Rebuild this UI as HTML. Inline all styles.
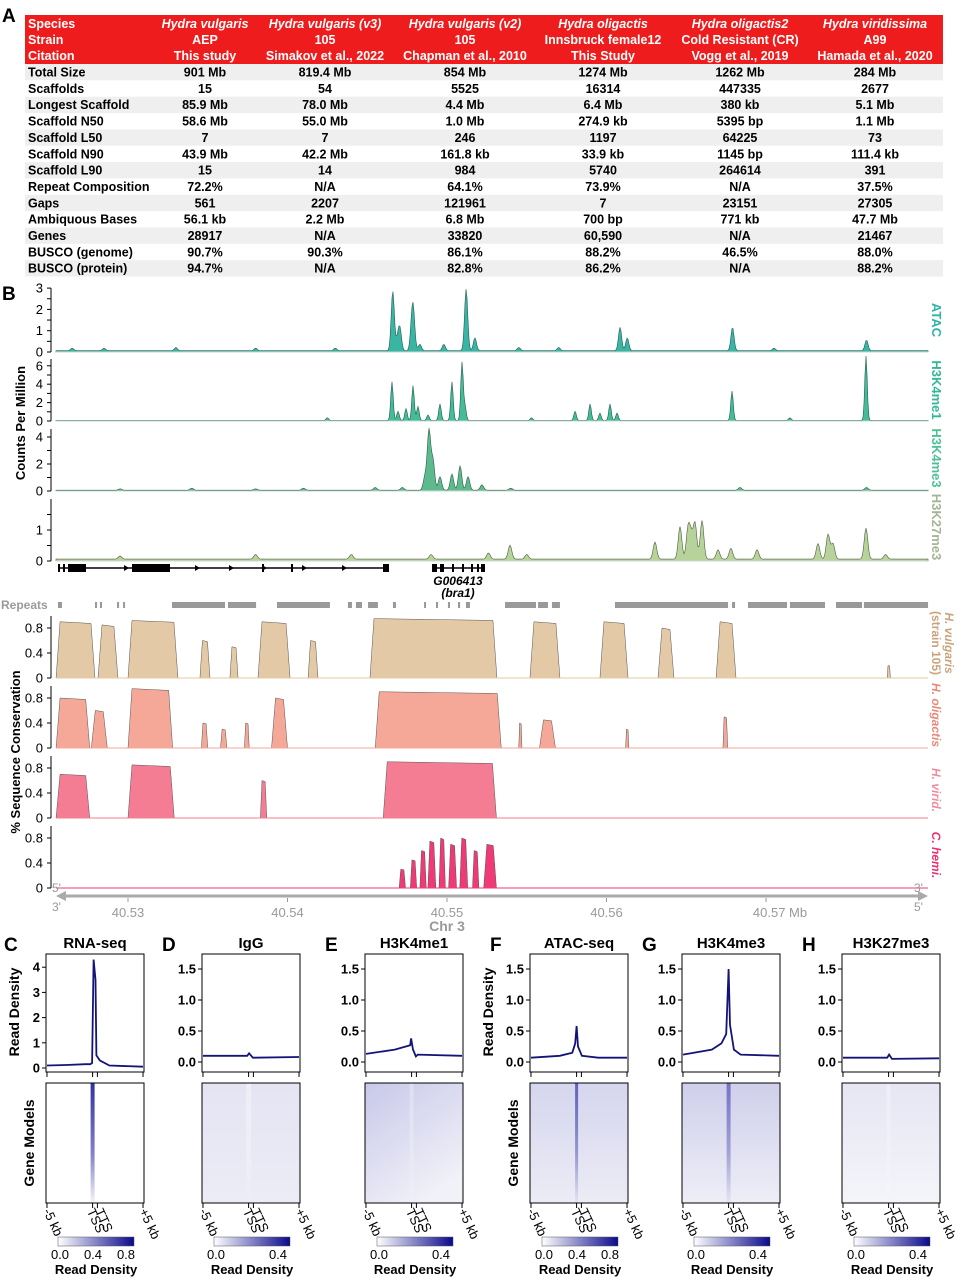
<!DOCTYPE html>
<html><head><meta charset="utf-8"><style>
body{margin:0;background:#fff;}
svg{display:block;font-family:"Liberation Sans",Arial,sans-serif;}
</style></head><body>
<svg id="fig" width="965" height="1280" viewBox="0 0 965 1280" xmlns="http://www.w3.org/2000/svg">
<defs>
<linearGradient id="cbar" x1="0" x2="1" y1="0" y2="0"><stop offset="0" stop-color="#ffffff"/><stop offset="1" stop-color="#0a0a8c"/></linearGradient>
</defs>
</svg>
<script>
// ---------- TABLE DATA ----------
const headSpecies=["Hydra vulgaris","Hydra vulgaris (v3)","Hydra vulgaris (v2)","Hydra oligactis","Hydra oligactis2","Hydra viridissima"];
const headStrain=["AEP","105","105","Innsbruck female12","Cold Resistant (CR)","A99"];
const headCitation=["This study","Simakov et al., 2022","Chapman et al., 2010","This Study","Vogg et al., 2019","Hamada et al., 2020"];
const rowLabels=["Total Size","Scaffolds","Longest Scaffold","Scaffold N50","Scaffold L50","Scaffold N90","Scaffold L90","Repeat Composition","Gaps","Ambiquous Bases","Genes","BUSCO (genome)","BUSCO (protein)"];
const rowValues=[
["901 Mb","819.4 Mb","854 Mb","1274 Mb","1262 Mb","284 Mb"],
["15","54","5525","16314","447335","2677"],
["85.9 Mb","78.0 Mb","4.4 Mb","6.4 Mb","380 kb","5.1 Mb"],
["58.6 Mb","55.0 Mb","1.0 Mb","274.9 kb","5395 bp","1.1 Mb"],
["7","7","246","1197","64225","73"],
["43.9 Mb","42.2 Mb","161.8 kb","33.9 kb","1145 bp","111.4 kb"],
["15","14","984","5740","264614","391"],
["72.2%","N/A","64.1%","73.9%","N/A","37.5%"],
["561","2207","121961","7","23151","27305"],
["56.1 kb","2.2 Mb","6.8 Mb","700 bp","771 kb","47.7 Mb"],
["28917","N/A","33820","60,590","N/A","21467"],
["90.7%","90.3%","86.1%","88.2%","46.5%","88.0%"],
["94.7%","N/A","82.8%","86.2%","N/A","88.2%"]];

// ---------- TRACK DATA (position kb from 40.53 Mb, height) ----------
const atacPos=[16.6,16.9,17.05,17.8,17.9,18.3,19.8,21.2,21.75,30.85,31.3,37.9,46.3,-3.5,-1.5,3.0,8.0,13.0,24.5,27.0,40.5];
const atacVal=[2.8,0.5,1.0,1.2,1.4,0.3,0.3,2.9,0.6,1.1,0.6,1.1,0.5,0.12,0.12,0.15,0.12,0.12,0.15,0.15,0.12];
const k4me1Pos=[16.55,16.93,17.43,17.87,18.18,18.81,19.56,20.31,20.94,21.13,28.03,28.97,29.59,30.22,30.66,37.87,46.27,12.5,25.3,41.5];
const k4me1Val=[4.2,1.0,1.3,3.8,1.5,0.6,1.8,4.2,6.3,1.5,1.0,1.8,0.8,1.8,0.8,3.2,7.0,0.3,0.3,0.3];
const k4me3Pos=[18.62,18.87,19.12,19.56,20.31,20.82,21.32,22.19,38.37,-0.5,8.0,4.0,11.0,15.5,17.2,24.0,46.3];
const k4me3Val=[1.0,4.4,2.2,1.0,1.2,1.8,1.0,0.4,0.2,0.1,0.1,0.15,0.15,0.2,0.2,0.15,0.2];
const k27Pos=[23.95,33.04,34.61,35.11,35.55,35.99,35.3,36.99,39.44,43.26,43.89,46.27,14.0,-0.5,8.0,19.0,22.6,25.0,37.8,44.2,47.5];
const k27Val=[0.45,0.55,1.05,0.95,1.15,1.25,0.7,0.3,0.3,0.5,0.8,1.0,0.15,0.1,0.15,0.15,0.2,0.15,0.35,0.5,0.15];
const repeatStart=[-4.39,-2.07,-1.76,-0.69,-0.31,2.76,6.27,9.34,13.79,14.29,15.05,16.61,18.56,19.31,20.06,20.69,21.19,23.64,25.71,26.58,30.53,37.87,38.87,41.5,44.39,46.14];
const repeatEnd=[-4.14,-1.94,-1.63,-0.56,-0.19,6.08,8.03,12.66,14.04,14.67,15.67,16.8,18.68,19.44,20.19,20.82,21.44,25.58,26.33,27.08,37.62,38.06,41.32,43.7,46.02,50.16];
// conservation blocks: start kb, end kb, value
const hvStart=[-4.51,-1.88,0,4.51,6.39,8.15,11.29,15.17,25.2,29.59,33.23,36.87,47.6];
const hvEnd=[-2.07,-0.63,3.13,5.14,6.9,10.16,11.91,23.13,27.08,31.35,34.23,38.12,47.8];
const hvVal=[0.9,0.85,0.92,0.6,0.5,0.9,0.6,0.95,0.9,0.9,0.8,0.9,0.2];
const hoStart=[-4.51,-2.3,0,4.6,5.8,7.3,9.0,15.5,24.5,25.8,31.2,37.3];
const hoEnd=[-2.4,-1.3,2.8,5.0,6.2,7.6,10.0,23.4,24.7,26.8,31.4,37.6];
const hoVal=[0.8,0.6,0.95,0.4,0.3,0.4,0.8,0.9,0.4,0.45,0.3,0.5];
const hvirStart=[-4.51,0,8.3,16.0];
const hvirEnd=[-2.4,2.9,8.7,23.1];
const hvirVal=[0.7,0.85,0.6,0.9];
const chStart=[17.0,17.7,18.3,18.8,19.5,20.1,20.8,21.6,22.3];
const chEnd=[17.4,18.1,18.7,19.3,19.9,20.6,21.3,22.0,23.1];
const chVal=[0.3,0.45,0.6,0.75,0.8,0.7,0.8,0.6,0.7];
const xTickMb=["40.53","40.54","40.55","40.56","40.57"];
const xTickKb=[0,10,20,30,40];

// ---------- PROFILE DATA ----------
const profTitles=["RNA-seq","IgG","H3K4me1","ATAC-seq","H3K4me3","H3K27me3"];
const profLetters=["C","D","E","F","G","H"];
const profX=[
[-5,-3,-1,-0.5,-0.3,-0.15,0.05,0.15,0.5,1.5,5],
[-5,-0.4,-0.2,0.2,5],
[-5,-2,-0.4,-0.3,-0.1,0.2,0.4,5],
[-5,-2,-0.7,-0.4,-0.25,-0.1,0.3,2,5],
[-5,-2,-1,-0.5,-0.25,-0.1,0.3,1,5],
[-5,-0.4,-0.2,0.1,5]];
const profY=[
[0.1,0.12,0.15,0.15,0.2,4.3,3.5,0.5,0.3,0.1,0.05],
[0.1,0.1,0.14,0.07,0.08],
[0.13,0.2,0.27,0.38,0.2,0.09,0.12,0.1],
[0.07,0.1,0.15,0.3,0.58,0.25,0.1,0.07,0.07],
[0.12,0.2,0.3,0.45,1.5,0.6,0.2,0.12,0.1],
[0.07,0.07,0.12,0.05,0.06]];
const cbarLabels=[["0.0","0.4","0.8"],["0.0","0.4"],["0.0","0.4"],["0.0","0.4","0.8"],["0.0","0.4"],["0.0","0.4"]];

// ---------- RENDER ----------
const svg=document.getElementById('fig');
const NS="http://www.w3.org/2000/svg";
function mk(tag,attrs,parent){const e=document.createElementNS(NS,tag);for(const k in attrs)e.setAttribute(k,attrs[k]);(parent||svg).appendChild(e);return e;}
function txt(s,x,y,attrs,parent){const e=mk('text',Object.assign({x:x,y:y},attrs),parent);e.textContent=s;return e;}

[["A",2,22],["B",2,300]].forEach(l=>{const t=txt(l[0],l[1],l[2],{'font-size':19,'font-weight':'bold'});

});

// Table
const colX=[205,325,465,603,740,875];
const tbl=mk('g',{});


mk('rect',{x:25,y:15,width:918,height:49,fill:'#ee1c1c'},tbl);
const hdr=[["Species",headSpecies,28],["Strain",headStrain,44],["Citation",headCitation,60]];
hdr.forEach((h,i)=>{
  const t=txt(h[0],28,h[2],{'font-size':12.5,'font-weight':'bold',fill:'#fff'},tbl);
  
  
  h[1].forEach((s,j)=>{const c=txt(s,colX[j],h[2],{'font-size':12.5,'font-weight':'bold',fill:'#fff','text-anchor':'middle','font-style':i==0?'italic':'normal'},tbl);
  
  });
});
rowLabels.forEach((lab,i)=>{
  const y0=64+i*16.35;
  if(i%2==0)mk('rect',{x:25,y:y0,width:918,height:16.35,fill:'#efefef'},tbl);
  const t=txt(lab,28,y0+12.5,{'font-size':12.5,'font-weight':'bold'},tbl);
  
  
  rowValues[i].forEach((v,j)=>{const c=txt(v,colX[j],y0+12.5,{'font-size':12.5,'font-weight':'bold','text-anchor':'middle'},tbl);
  
  });
});

const X0=56,X1=928;
function gx(kb){return 128+kb*15.95;}
function kbAt(px){return (px-128)/15.95;}

function drawSignal(name,pos,val,y0,unit,fill,stroke,w,ticks,tickLbl,label,labelColor,labelY){
  const g=mk('g',{});
  
  
  let d='M'+X0+','+y0;
  for(let px=X0;px<=X1;px+=1){
    const k=kbAt(px);let v=0.06;
    for(let i=0;i<pos.length;i++){const z=(k-pos[i])/w;v+=val[i]*Math.exp(-z*z);}
    d+=' L'+px+','+(y0-v*unit).toFixed(1);
  }
  d+=' L'+X1+','+y0+' Z';
  const p=mk('path',{d:d,fill:fill,stroke:stroke,'stroke-width':0.6},g);
  
  
  mk('line',{x1:X0,x2:X1,y1:y0,y2:y0,stroke:'#c8d8d0','stroke-width':1},g);
  const topY=y0-ticks[ticks.length-1]*unit;
  mk('line',{x1:51,x2:51,y1:Math.min(topY,y0-62),y2:y0,stroke:'#000','stroke-width':1},g);
  ticks.forEach((t,i)=>{const yy=y0-t*unit;mk('line',{x1:47,x2:51,y1:yy,y2:yy,stroke:'#000'},g);
    if(tickLbl[i]!==''){const tl=txt(tickLbl[i],43,yy+4.5,{'font-size':13,'text-anchor':'end'},g);
    
    }});
  const lt=txt(label,0,0,{'font-size':13,'font-weight':'bold',fill:labelColor,'text-anchor':'middle',transform:'translate(932,'+labelY+') rotate(90)'},g);
  
  
}
drawSignal('atac',atacPos,atacVal,352,21.3,'#3bb5a3','#1f5f55',0.14,[0,0.5,1,1.5,2,2.5,3],['0','','1','','2','','3'],'ATAC','#2db3a5',320);
drawSignal('h3k4me1',k4me1Pos,k4me1Val,421,9.2,'#45bb98','#1f5f50',0.11,[0,1,2,3,4,5,6],['0','','2','','4','','6'],'H3K4me1','#33b796',390);
drawSignal('h3k4me3',k4me3Pos,k4me3Val,491,13.5,'#5fb98e','#2d5f45',0.15,[0,1,2,3,4],['0','','2','','4'],'H3K4me3','#4dc195',458);
drawSignal('h3k27me3',k27Pos,k27Val,561,31,'#b7d29a','#4f5f40',0.16,[0,0.5,1,1.5],['0','','1',''],'H3K27me3','#a4b495',527);

const cpm=txt('Counts Per Million',0,0,{'font-size':13,'font-weight':'bold','text-anchor':'middle',transform:'translate(25,423) rotate(-90)'});



// Gene models
const gm=mk('g',{});


mk('line',{x1:58,x2:389,y1:568,y2:568,stroke:'#000','stroke-width':1.5},gm);
[[58,2],[63,2],[68,18],[132,38],[262,2],[291,2],[383,6]].forEach(e=>mk('rect',{x:e[0],y:564,width:e[1],height:8,fill:'#000'},gm));
[127,198,232,265,305,345].forEach(a=>mk('path',{d:'M'+(a-3)+',565 L'+(a+2)+',568 L'+(a-3)+',571 Z',fill:'#000'},gm));
mk('line',{x1:432,x2:485,y1:568,y2:568,stroke:'#000','stroke-width':1.5},gm);
[[432,5],[440,4],[452,2],[462,2],[471,2],[477,2],[481,4]].forEach(e=>mk('rect',{x:e[0],y:564,width:e[1],height:8,fill:'#000'},gm));
const gn=txt('G006413',458,585,{'font-size':12,'font-weight':'bold','font-style':'italic','text-anchor':'middle'},gm);


const gn2=txt('(bra1)',458,597,{'font-size':12,'font-weight':'bold','font-style':'italic','text-anchor':'middle'},gm);



// Repeats
const rp=mk('g',{});


const rl=txt('Repeats',1,609,{'font-size':12,'font-weight':'bold',fill:'#9a9a9a'},rp);


repeatStart.forEach((s,i)=>{const r=mk('rect',{x:gx(s),y:602,width:Math.max(2,gx(repeatEnd[i])-gx(s)),height:6,fill:'#999'},rp);

});

// Conservation
function drawCons(name,st,en,val,y0,fill,label,labelColor,labelY){
  const g=mk('g',{});
  
  
  const unit=62.5;
  st.forEach((s,i)=>{
    const a=gx(s),b=gx(en[i]),h=val[i]*unit,sh=Math.min(4,(b-a)/4);
    const p=mk('path',{d:'M'+a+','+y0+' L'+(a+sh)+','+(y0-h)+' L'+(b-sh)+','+(y0-h*0.97)+' L'+b+','+y0+' Z',fill:fill,stroke:'#555','stroke-width':0.5},g);
    
    
  });
  mk('line',{x1:X0,x2:X1,y1:y0,y2:y0,stroke:fill,'stroke-width':1},g);
  mk('line',{x1:51,x2:51,y1:y0-62,y2:y0,stroke:'#000'},g);
  [[0,'0'],[0.4,'0.4'],[0.8,'0.8']].forEach(t=>{const yy=y0-t[0]*unit;mk('line',{x1:47,x2:51,y1:yy,y2:yy,stroke:'#000'},g);
    const tl=txt(t[1],43,yy+4.5,{'font-size':13,'text-anchor':'end'},g);
    
    });
  const n=label.length;
  label.forEach((l,k)=>{const lx=932+(n-1-k)*13;
  const lt=txt(l,0,0,{'font-size':12,'font-weight':'bold','font-style':k==0?'italic':'normal',fill:labelColor,'text-anchor':'middle',transform:'translate('+lx+','+labelY+') rotate(90)'},g);
  
  });
}
drawCons('h-vulgaris',hvStart,hvEnd,hvVal,678,'#e3c9a5',['H. vulgaris','(strain 105)'],'#c9a37c',643);
drawCons('h-oligactis',hoStart,hoEnd,hoVal,748,'#f5a898',['H. oligactis'],'#e8887a',715);
drawCons('h-viridissima',hvirStart,hvirEnd,hvirVal,818,'#f47c93',['H. virid.'],'#f08aa0',790);
drawCons('c-hemisphaerica',chStart,chEnd,chVal,888,'#ef3a76',['C. hemi.'],'#e8336f',855);
const sc=txt('% Sequence Conservation',0,0,{'font-size':13,'font-weight':'bold','text-anchor':'middle',transform:'translate(20,752) rotate(-90)'});



// Genomic x axis
const ax=mk('g',{});


mk('line',{x1:62,x2:922,y1:896,y2:896,stroke:'#aaa','stroke-width':3},ax);
mk('path',{d:'M56,896 L66,891 L66,901 Z',fill:'#aaa'},ax);
mk('path',{d:'M928,896 L918,891 L918,901 Z',fill:'#aaa'},ax);
[["5'",52,892],["3'",52,911],["3'",914,892],["5'",914,911]].forEach(l=>{const t=txt(l[0],l[1],l[2],{'font-size':12,fill:'#999'},ax);

});
xTickKb.forEach((k,i)=>{mk('line',{x1:gx(k),x2:gx(k),y1:898,y2:902,stroke:'#999'},ax);
  const t=txt(xTickMb[i]+(i==4?' Mb':''),gx(k)+(i==4?14:0),917,{'font-size':13,fill:'#999','text-anchor':'middle'},ax);
  
  });
const chr=txt('Chr 3',447,931,{'font-size':14,'font-weight':'bold',fill:'#999','text-anchor':'middle'},ax);



// Profile + heatmap panels
const boxL=[46,202,365,530,682,842];
const heatCfg=[
 {top:'#ffffff',bot:'#ffffff',stripe:'#1b1b9a',so:0.9,sw:4},
 {top:'#e4e4f3',bot:'#ececf6',stripe:'#ffffff',so:0.4,sw:5},
 {top:'#c8c8ea',bot:'#f1f1f8',stripe:'#ffffff',so:0.3,sw:4},
 {top:'#d5d5ee',bot:'#ececf6',stripe:'#3030a8',so:0.7,sw:3},
 {top:'#cfcfeb',bot:'#eeeef7',stripe:'#3838aa',so:0.6,sw:4},
 {top:'#e6e6f4',bot:'#f4f4fa',stripe:'#ffffff',so:0.3,sw:4}];
const BW=98;
function px(bx,k){return bx+BW/2+k*(BW/10)*0.98;}
profTitles.forEach((title,i)=>{
  const bx=boxL[i];
  const g=mk('g',{});
  
  
  const L=txt(profLetters[i],bx-42+(i==0?0:2),951,{'font-size':19,'font-weight':'bold'},g);
  
  
  const T=txt(title,bx+BW/2,948,{'font-size':15,'font-weight':'bold','text-anchor':'middle'},g);
  
  
  mk('rect',{x:bx,y:954,width:BW,height:118,fill:'none',stroke:'#000'},g);
  let y0,unit,ticks,tl;
  if(i==0){y0=1068;unit=25.2;ticks=[0,1,2,3,4];tl=['0','1','2','3','4'];}
  else{y0=1062;unit=62;ticks=[0,0.5,1,1.5];tl=['0.0','0.5','1.0','1.5'];}
  ticks.forEach((t,j)=>{const yy=y0-t*unit;mk('line',{x1:bx-4,x2:bx,y1:yy,y2:yy,stroke:'#000'},g);
    const l=txt(tl[j],bx-6,yy+4.5,{'font-size':13,'font-weight':'bold','text-anchor':'end'},g);
    
    });
  [-5,-0.25,0.25,5].forEach(k=>mk('line',{x1:px(bx,k),x2:px(bx,k),y1:1072,y2:1077,stroke:'#000'},g));
  let d='';
  profX[i].forEach((k,j)=>{d+=(j?' L':'M')+px(bx,k).toFixed(1)+','+(y0-profY[i][j]*unit).toFixed(1);});
  const pl=mk('path',{d:d,fill:'none',stroke:'#141478','stroke-width':1.8},g);
  
  
  const c=heatCfg[i];
  const gid='hg'+i;
  const lg=mk('linearGradient',{id:gid,x1:0,x2:i==2?0.6:0,y1:0,y2:1});
  mk('stop',{offset:0,'stop-color':c.top},lg);mk('stop',{offset:1,'stop-color':c.bot},lg);
  svg.querySelector('defs').appendChild(lg);
  const sid='sg'+i;
  const sg=mk('linearGradient',{id:sid,x1:0,x2:0,y1:0,y2:1});
  mk('stop',{offset:0,'stop-color':c.stripe,'stop-opacity':c.so},sg);mk('stop',{offset:0.6,'stop-color':c.stripe,'stop-opacity':c.so*0.6},sg);mk('stop',{offset:1,'stop-color':c.stripe,'stop-opacity':0.05},sg);
  svg.querySelector('defs').appendChild(sg);
  const hm=mk('rect',{x:bx,y:1083,width:BW,height:120,fill:'url(#'+gid+')',stroke:'#000'},g);
  
  
  mk('rect',{x:px(bx,-0.25)-c.sw/2,y:1083.5,width:c.sw,height:119,fill:'url(#'+sid+')'},g);
  mk('rect',{x:bx,y:1083,width:BW,height:120,fill:'none',stroke:'#000'},g);
  [-5,-0.25,0.25,5].forEach(k=>mk('line',{x1:px(bx,k),x2:px(bx,k),y1:1203,y2:1208,stroke:'#000'},g));
  [["-5 kb",-5],["TSS",-0.45],["TTS",0.4],["+5 kb",5]].forEach(l=>{
    const t=txt(l[0],0,0,{'font-size':13,transform:'translate('+(px(bx,l[1])-4)+',1211) rotate(65)'},g);
    
    });
  const cb=mk('rect',{x:bx+12,y:1237,width:76,height:9,fill:'url(#cbar)',stroke:'#555','stroke-width':0.5},g);
  
  
  const lbls=cbarLabels[i];
  lbls.forEach((s,j)=>{const xx=bx+14+j*(lbls.length==3?33:62);
    const t=txt(s,xx,1259,{'font-size':13,'text-anchor':'middle'},g);
    
    });
  const rd=txt('Read Density',bx+50,1274,{'font-size':13,'font-weight':'bold','text-anchor':'middle'},g);
  
  
  if(i==0||i==3){
    const off=(i==0)?27:37;
    const a=txt('Read Density',0,0,{'font-size':14,'font-weight':'bold','text-anchor':'middle',transform:'translate('+(bx-off)+',1012) rotate(-90)'},g);
    
    
    const b=txt('Gene Models',0,0,{'font-size':14,'font-weight':'bold','text-anchor':'middle',transform:'translate('+(bx-12)+',1143) rotate(-90)'},g);
    
    
  }
});
</script>
</body></html>
